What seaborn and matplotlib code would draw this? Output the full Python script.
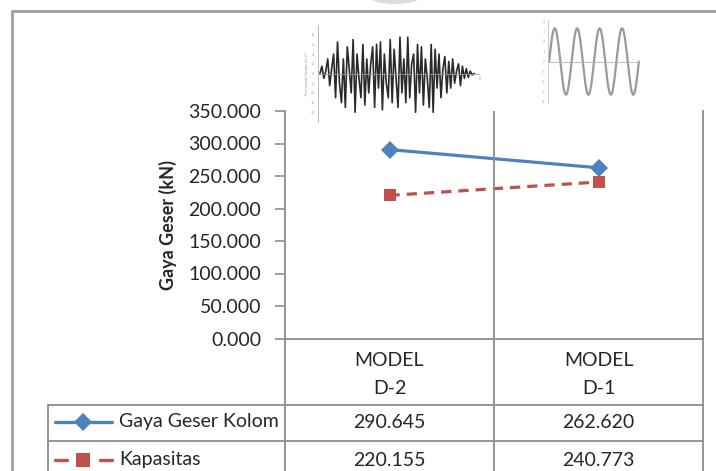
import numpy as np
import pandas as pd
import matplotlib
matplotlib.use("Agg")
import matplotlib.pyplot as plt
from matplotlib.lines import Line2D
from matplotlib.patches import Ellipse
import seaborn as sns

# ---- data ----
categories = ["MODEL\nD-2", "MODEL\nD-1"]
series_names = ["Gaya Geser Kolom", "Kapasitas"]
gaya_geser_kolom = [290.645, 262.620]
kapasitas = [220.155, 240.773]
y_ticks = [0, 50, 100, 150, 200, 250, 300, 350]

# ground-motion record sketch (peak amplitudes, g-scaled units)
accel_peaks = [0, 1.5, -1, 0.5, 3, -2.5, 1, 4, -5, 6.5, -2, -6, 3, -7, 5.5, 1,
               -4, 7, -8, 4, -1, -5, 6, -6.5, 3, -4, 2, 5.5, -7, 6, -3, 6.5,
               -7.5, 4, -2, -5, 7, -6, 5, -1, -7, 7.5, -4, 3, -6, 7.5, -5, 2,
               4, -8, 6, -4, 5.5, -6.5, 3, -1, -7, 6, -8, 5, -3, 4, -5, 1,
               3.5, -4, 2.5, -3, 3, -2, 0.5, 2, -2.5, 1.5, -1, 1, -0.8, 0.5,
               -0.3, 0]

colors = {"Gaya Geser Kolom": "#4F81BD", "Kapasitas": "#C0504D"}
grid_c = "#8c8c8c"
txt_c = "#262626"
FS = 14

sns.set_theme(style="white")
plt.rcParams["font.family"] = ["Lato", "DejaVu Sans"]

W, H = 716, 471
fig = plt.figure(figsize=(W / 100, H / 100), dpi=100)

# full-figure overlay in pixel units for frame and data table
bg = fig.add_axes([0, 0, 1, 1], zorder=0)
bg.set_xlim(0, W)
bg.set_ylim(H, 0)
bg.axis("off")

# plot area
L, R, T, B = 285, 703, 111, 338.5
ax = fig.add_axes([L / W, (H - B) / H, (R - L) / W, (B - T) / H], zorder=2)
ax.patch.set_alpha(0)

df = pd.DataFrame({
    "pos": [0, 1, 0, 1],
    "value": gaya_geser_kolom + kapasitas,
    "series": [series_names[0]] * 2 + [series_names[1]] * 2,
})
sns.lineplot(data=df, x="pos", y="value", hue="series", style="series",
             palette=colors, markers={series_names[0]: "D", series_names[1]: "s"},
             dashes={series_names[0]: "", series_names[1]: (3.2, 2.2)},
             markersize=9, linewidth=2.3, markeredgewidth=0,
             sort=False, legend=False, ax=ax)

ax.set_xlim(-0.5, 1.5)
ax.set_ylim(0, 350)
ax.set_xticks([])
ax.set_yticks(y_ticks)
ax.set_yticklabels([f"{v:.3f}" for v in y_ticks])
ax.tick_params(axis="y", direction="out", length=7, width=1.2, color=grid_c,
               labelsize=FS, labelcolor=txt_c, pad=10, left=True)
ax.set_xlabel("")
ax.set_ylabel("Gaya Geser (kN)", fontsize=13, fontweight="bold", color=txt_c)
ax.yaxis.set_label_coords(-(L - 177) / (R - L), 0.5)
for side in ["left", "bottom", "right"]:
    ax.spines[side].set_visible(True)
    ax.spines[side].set_color(grid_c)
    ax.spines[side].set_linewidth(1.3)
ax.spines["top"].set_visible(False)
ax.axvline(0.5, color=grid_c, lw=1.3)

# outer chart frame and watermark
bg.plot([12, W], [11, 11], color="#a0a0a0", lw=2)
bg.plot([12, 12], [11, H], color="#a0a0a0", lw=2)
bg.add_patch(Ellipse((395, -8), 62, 24, facecolor="#dcdcdc", edgecolor="none"))

# data table grid
lc = dict(color=grid_c, lw=1.3)
for yy in [405, 441]:
    bg.plot([48, R], [yy, yy], **lc)
bg.plot([48, 48], [405, H], **lc)
for xx in [L, (L + R) / 2]:
    bg.plot([xx, xx], [B, H], **lc)
bg.plot([R, R], [B, H], **lc)

col_x = [(L + (L + R) / 2) / 2, ((L + R) / 2 + R) / 2]
for cx, cat in zip(col_x, categories):
    bg.text(cx, 374.5, cat, ha="center", va="center", fontsize=FS, color=txt_c,
            linespacing=1.75)

row_y = [422, 460]
for ry, name, vals in zip(row_y, series_names, [gaya_geser_kolom, kapasitas]):
    bg.text(119, ry, name, ha="left", va="center", fontsize=FS, color=txt_c)
    for cx, v in zip(col_x, vals):
        bg.text(cx, ry, f"{v:.3f}", ha="center", va="center", fontsize=FS,
                color=txt_c)

# legend keys inside the table
bg.add_line(Line2D([55, 112], [row_y[0]] * 2, color=colors[series_names[0]], lw=2.4))
bg.plot([83], [row_y[0]], marker="D", ms=9, color=colors[series_names[0]], mew=0)
for x0, x1 in [(55, 67), (100, 112)]:
    bg.add_line(Line2D([x0, x1], [row_y[1]] * 2, color=colors[series_names[1]], lw=2.4))
bg.plot([83], [row_y[1]], marker="s", ms=9.5, color=colors[series_names[1]], mew=0)

# ground-motion record thumbnail
a1 = fig.add_axes([318 / W, (H - 122) / H, (480 - 318) / W, (122 - 25) / H], zorder=3)
a1.patch.set_alpha(0)
t = np.arange(len(accel_peaks))
a1.plot(t, accel_peaks, color="#2a2a2a", lw=1.2)
a1.axhline(0, color="#999999", lw=0.6)
a1.set_xlim(-1, len(accel_peaks) + 2)
a1.set_ylim(-10, 10)
a1.set_yticks(range(-8, 9, 2))
a1.set_yticklabels([str(v) for v in range(-8, 9, 2)])
a1.set_xticks([])
a1.tick_params(axis="y", labelsize=3, length=1.5, width=0.5, colors="#9a9a9a", pad=1)
a1.set_ylabel("Percepatan Gempa (m/s²)", fontsize=2.8, color="#9a9a9a", labelpad=1)
for s in ["top", "right", "bottom"]:
    a1.spines[s].set_visible(False)
a1.spines["left"].set_color("#b0b0b0")
a1.spines["left"].set_linewidth(0.6)
a1.text(len(accel_peaks) + 1.5, -0.8, "0", fontsize=3, color="#9a9a9a", va="top")

# harmonic load thumbnail
a2 = fig.add_axes([548 / W, (H - 103) / H, (640 - 548) / W, (103 - 20) / H], zorder=3)
a2.patch.set_alpha(0)
ts = np.linspace(0, 4, 400)
a2.plot(ts, np.sin(2 * np.pi * ts), color="#9a9a9a", lw=1.6)
a2.axhline(0, color="#b5b5b5", lw=0.6)
a2.set_xlim(-0.05, 4.05)
a2.set_ylim(-1.25, 1.25)
a2.set_yticks(np.linspace(-1.2, 1.2, 9))
a2.set_yticklabels(["-4", "-3", "-2", "-1", "0", "1", "2", "3", "4"])
a2.set_xticks([])
a2.tick_params(axis="y", labelsize=2.5, length=1.2, width=0.5, colors="#b0b0b0", pad=1)
for s in ["top", "right", "bottom"]:
    a2.spines[s].set_visible(False)
a2.spines["left"].set_color("#c0c0c0")
a2.spines["left"].set_linewidth(0.6)

fig.savefig("out.png", dpi=100)
